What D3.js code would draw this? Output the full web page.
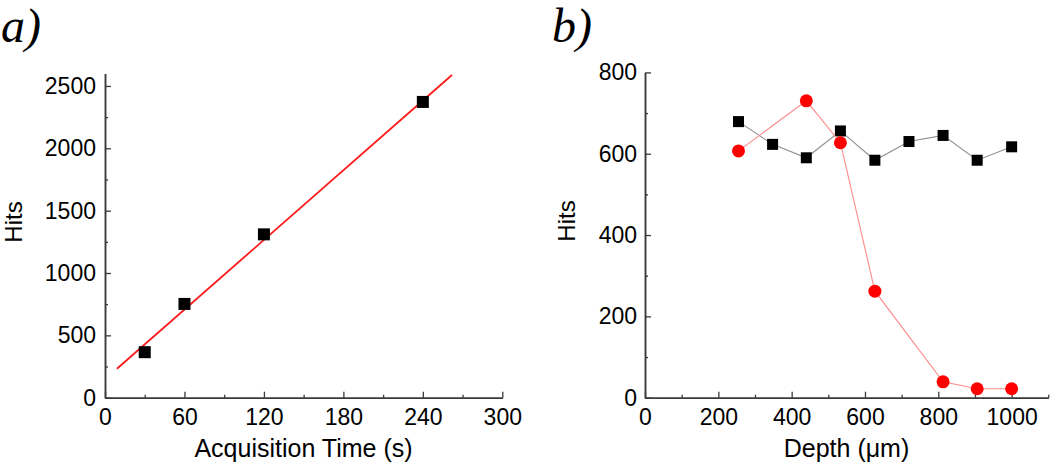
<!DOCTYPE html>
<html><head><meta charset="utf-8">
<script src="https://cdn.jsdelivr.net/npm/d3@7"></script>
<style>
body{margin:0;background:#fff;}
svg{display:block;background:#fff;}
text{font-family:"Liberation Sans",Arial,sans-serif;fill:#000;}
</style>
</head><body>
<svg id="c" width="1050" height="466"></svg>
<script>
// ---- Panel a data ----
const timeS = [30, 60, 120, 240];
const hitsTime = [365, 752, 1310, 2372];
const fitTime = [9, 262];
const fitHits = [232, 2588];
const timeTicks = [0, 60, 120, 180, 240, 300];
const timeMinor = [30, 90, 150, 210, 270];
const hitsATicks = [0, 500, 1000, 1500, 2000, 2500];
const hitsAMinor = [250, 750, 1250, 1750, 2250];

// ---- Panel b data ----
const depthBlack = [255, 348, 440, 533, 627, 720, 813, 906, 1000];
const hitsBlack = [679, 623, 590, 656, 584, 630, 645, 584, 617];
const depthRed = [255, 440, 533, 627, 813, 906, 1000];
const hitsRed = [607, 730, 627, 262, 39, 22, 22];
const depthTicks = [0, 200, 400, 600, 800, 1000];
const depthMinor = [100, 300, 500, 700, 900, 1100];
const hitsBTicks = [0, 200, 400, 600, 800];
const hitsBMinor = [100, 300, 500, 700];

const svg = d3.select("#c");
const AXC = "#3a3a3a";
const fmt = d3.format("d");

function drawAxes(x, y, xt, xm, yt, ym, lblPadY) {
  const y0 = y.range()[0];
  const x0 = x.range()[0];
  const g = svg.append("g");
  const xmG = g.append("g").attr("transform", `translate(0,${y0})`)
    .call(d3.axisBottom(x).tickValues(xm).tickSize(-3).tickSizeOuter(0).tickFormat(""));
  const ymG = g.append("g").attr("transform", `translate(${x0},0)`)
    .call(d3.axisLeft(y).tickValues(ym).tickSize(-3).tickSizeOuter(0).tickFormat(""));
  const xG = g.append("g").attr("transform", `translate(0,${y0})`)
    .call(d3.axisBottom(x).tickValues(xt).tickFormat(fmt).tickSize(-6).tickSizeOuter(0).tickPadding(11));
  const yG = g.append("g").attr("transform", `translate(${x0},0)`)
    .call(d3.axisLeft(y).tickValues(yt).tickFormat(fmt).tickSize(-6).tickSizeOuter(0).tickPadding(lblPadY));
  [xmG, ymG, xG, yG].forEach(a => {
    a.select(".domain").attr("stroke", AXC).attr("stroke-width", 1.5);
    a.selectAll(".tick line").attr("stroke", AXC).attr("stroke-width", 1.3);
    a.selectAll(".tick text").style("font-size", "23px").attr("fill", "#000")
      .style("font-family", '"Liberation Sans", Arial, sans-serif');
  });
}

// ---- Panel a ----
const xa = d3.scaleLinear().domain([0, 300]).range([105, 502.3]);
const ya = d3.scaleLinear().domain([0, 2600]).range([397.7, 73.5]);
drawAxes(xa, ya, timeTicks, timeMinor, hitsATicks, hitsAMinor, 9);

svg.append("path")
  .datum(fitTime.map((t, i) => [t, fitHits[i]]))
  .attr("d", d3.line().x(d => xa(d[0])).y(d => ya(d[1])))
  .attr("fill", "none").attr("stroke", "#ff1a1a").attr("stroke-width", 1.8);

const sqA = 12;
svg.append("g").selectAll("rect")
  .data(timeS.map((t, i) => [t, hitsTime[i]]))
  .join("rect")
  .attr("x", d => xa(d[0]) - sqA / 2).attr("y", d => ya(d[1]) - sqA / 2)
  .attr("width", sqA).attr("height", sqA).attr("fill", "#000");

svg.append("text").attr("x", 303.5).attr("y", 457).attr("text-anchor", "middle")
  .style("font-size", "25px").text("Acquisition Time (s)");
svg.append("text").attr("transform", "translate(22,222) rotate(-90)").attr("text-anchor", "middle")
  .style("font-size", "24px").text("Hits");
svg.append("text").attr("x", 1).attr("y", 42)
  .style("font-family", '"Liberation Serif","Times New Roman",serif').style("font-style", "italic")
  .style("font-size", "48px").text("a)");

// ---- Panel b ----
const xb = d3.scaleLinear().domain([0, 1100]).range([645, 1048.3]);
const yb = d3.scaleLinear().domain([0, 800]).range([397.7, 72.4]);
drawAxes(xb, yb, depthTicks, depthMinor, hitsBTicks, hitsBMinor, 8);

const blackPts = depthBlack.map((d, i) => [d, hitsBlack[i]]);
const redPts = depthRed.map((d, i) => [d, hitsRed[i]]);
const lineB = d3.line().x(d => xb(d[0])).y(d => yb(d[1]));

svg.append("path").datum(blackPts).attr("d", lineB)
  .attr("fill", "none").attr("stroke", "#8f8f8f").attr("stroke-width", 1.1);
const sqB = 11;
svg.append("g").selectAll("rect").data(blackPts).join("rect")
  .attr("x", d => xb(d[0]) - sqB / 2).attr("y", d => yb(d[1]) - sqB / 2)
  .attr("width", sqB).attr("height", sqB).attr("fill", "#000");

svg.append("path").datum(redPts).attr("d", lineB)
  .attr("fill", "none").attr("stroke", "#ff8a8a").attr("stroke-width", 1.1);
svg.append("g").selectAll("circle").data(redPts).join("circle")
  .attr("cx", d => xb(d[0])).attr("cy", d => yb(d[1])).attr("r", 6.5).attr("fill", "#ff0000");

svg.append("text").attr("x", 846.5).attr("y", 457).attr("text-anchor", "middle")
  .style("font-size", "25px").text("Depth (μm)");
svg.append("text").attr("transform", "translate(575,221) rotate(-90)").attr("text-anchor", "middle")
  .style("font-size", "24px").text("Hits");
svg.append("text").attr("x", 552).attr("y", 42)
  .style("font-family", '"Liberation Serif","Times New Roman",serif').style("font-style", "italic")
  .style("font-size", "48px").text("b)");
</script>
</body></html>
